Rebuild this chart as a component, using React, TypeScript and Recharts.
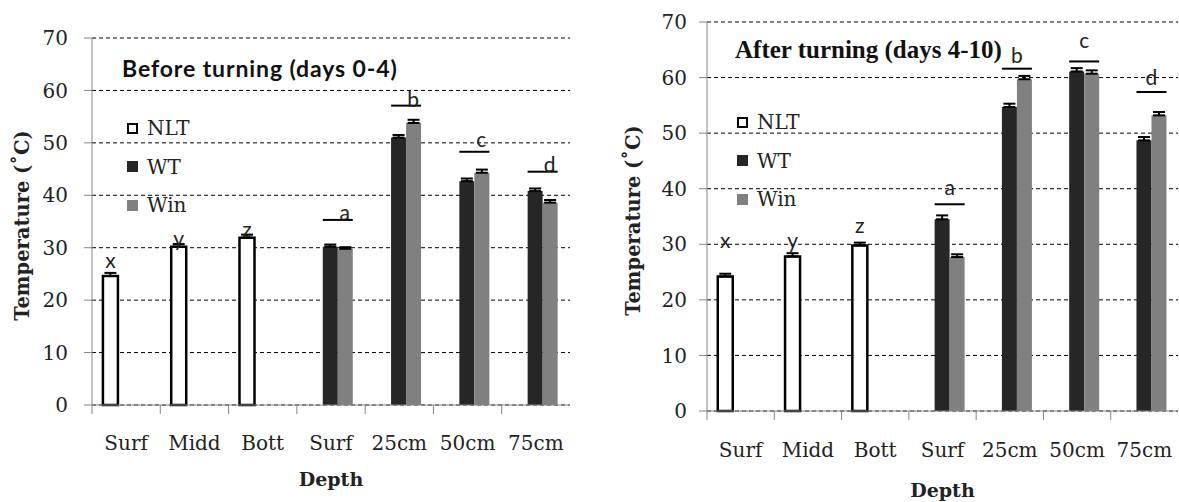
import { BarChart, Bar, XAxis, YAxis, CartesianGrid, ErrorBar, LabelList, Legend } from 'recharts';

const depths = ['Surf', 'Midd', 'Bott', 'Surf', '25cm', '50cm', '75cm'];
const seriesNames = ['NLT', 'WT', 'Win'];
const yTicks = [0, 10, 20, 30, 40, 50, 60, 70];

// Before turning (days 0-4)
const beforeNlt = [24.6, 30.2, 31.9, null, null, null, null];
const beforeNltErr = [0.6, 0.5, 0.6, null, null, null, null];
const beforeWt = [null, null, null, 30.2, 51.0, 42.7, 40.8];
const beforeWtErr = [null, null, null, 0.4, 0.5, 0.5, 0.5];
const beforeWin = [null, null, null, 29.8, 53.8, 44.3, 38.6];
const beforeWinErr = [null, null, null, 0.3, 0.6, 0.6, 0.5];
const beforeNltLetters = ['x', 'y', 'z', null, null, null, null];
const beforeNltLetterAt = [26.1, 30.3, 32.1, null, null, null, null];
const beforePairLetters = [null, null, null, 'a', 'b', 'c', 'd'];
const beforePairLine = [null, null, null, 35.3, 57.1, 48.3, 44.5];
const beforePairLetterAt = [null, null, null, 35.3, 56.9, 49.2, 44.5];

// After turning (days 4-10)
const afterNlt = [24.2, 27.8, 29.8, null, null, null, null];
const afterNltErr = [0.5, 0.6, 0.5, null, null, null, null];
const afterWt = [null, null, null, 34.5, 54.7, 61.1, 48.7];
const afterWtErr = [null, null, null, 0.7, 0.6, 0.6, 0.6];
const afterWin = [null, null, null, 27.7, 59.7, 60.7, 53.2];
const afterWinErr = [null, null, null, 0.5, 0.6, 0.6, 0.6];
const afterNltLetters = ['x', 'y', 'z', null, null, null, null];
const afterNltLetterAt = [29.4, 29.4, 32.0, null, null, null, null];
const afterPairLetters = [null, null, null, 'a', 'b', 'c', 'd'];
const afterPairLine = [null, null, null, 37.2, 61.6, 62.9, 57.4];
const afterPairLetterAt = [null, null, null, 38.8, 62.6, 65.3, 58.6];

const SERIF = "'DejaVu Serif', serif";
const SANS = "Lato, 'Open Sans', sans-serif";
const AXIS = '#868686';
const INK = '#222';
const WT_FILL = '#262626';
const WIN_FILL = '#808080';

const err = (e) => (e == null ? null : [0, e]);

function buildRows(nlt, nltErr, wt, wtErr, win, winErr) {
  return depths.map((depth, i) => ({
    depth,
    nlt: nlt[i],
    nltErr: err(nltErr[i]),
    wt: wt[i],
    wtErr: err(wtErr[i]),
    win: win[i],
    winErr: err(winErr[i]),
  }));
}

const beforeRows = buildRows(beforeNlt, beforeNltErr, beforeWt, beforeWtErr, beforeWin, beforeWinErr);
const afterRows = buildRows(afterNlt, afterNltErr, afterWt, afterWtErr, afterWin, afterWinErr);

// pull bar box out of label props (v3 passes a viewBox)
function barBox(props) {
  const vb = props.viewBox || props;
  const h = Math.abs(vb.height);
  const top = vb.height < 0 ? vb.y + vb.height : vb.y;
  return { x: vb.x, y: top, width: vb.width, height: h };
}

// label index skips empty bars, so find the category from the value
const categoryOf = (series, value) => series.findIndex((v) => v === Number(value));

// letters over the single NLT bars
const nltMarks = (series, letters, at) => (props) => {
  const { value } = props;
  if (value == null) return null;
  const i = categoryOf(series, value);
  if (i < 0 || !letters[i]) return null;
  const b = barBox(props);
  const perUnit = b.height / value;
  const base = b.y + b.height;
  return (
    <text x={b.x + b.width / 2} y={base - at[i] * perUnit} textAnchor="middle"
      fontFamily={SANS} fontSize={21} fill={INK}>
      {letters[i]}
    </text>
  );
};

// bracket line over the WT/Win pair with its letter
const pairMarks = (series, letters, line, at, dx) => (props) => {
  const { value } = props;
  if (value == null) return null;
  const i = categoryOf(series, value);
  if (i < 0 || !letters[i]) return null;
  const b = barBox(props);
  const perUnit = b.height / value;
  const base = b.y + b.height;
  const ly = base - line[i] * perUnit;
  const x1 = b.x;
  const x2 = b.x + 2 * b.width;
  return (
    <g>
      <line x1={x1} x2={x2} y1={ly} y2={ly} stroke="#000" strokeWidth={2} />
      <text x={(x1 + x2) / 2 + dx} y={base - at[i] * perUnit} textAnchor="middle"
        fontFamily={SANS} fontSize={21} fill={INK}>
        {letters[i]}
      </text>
    </g>
  );
};

const DepthTick = ({ x, y, payload, labelDy }) => {
  const half = payload && payload.offset ? payload.offset : 34;
  return (
    <g>
      <line x1={x - half} x2={x - half} y1={y} y2={y + 9} stroke={AXIS} />
      <text x={x} y={y + labelDy} textAnchor="middle" fontFamily={SERIF} fontSize={20} fill={INK}>
        {payload.value}
      </text>
    </g>
  );
};

const LegendBox = ({ payload }) => {
  const items = (payload && payload.length ? payload.map((p) => p.value) : seriesNames);
  const swatch = {
    NLT: { background: '#fff', border: '2px solid #000' },
    WT: { background: WT_FILL, border: 'none' },
    Win: { background: WIN_FILL, border: 'none' },
  };
  return (
    <div style={{ fontFamily: SERIF, fontSize: 20, color: INK }}>
      {items.map((name) => (
        <div key={name} style={{ display: 'flex', alignItems: 'center', height: 38.5 }}>
          <span style={{ display: 'inline-block', width: 11, height: 11, boxSizing: 'border-box', marginRight: 9, ...swatch[name] }} />
          <span>{name}</span>
        </div>
      ))}
    </div>
  );
};

function DepthPanel({ rows, nlt, wt, width, margin, tickMargin, yTitleX, depthDy, labelDy, legendPos, nltLetters, nltAt, pairLetters, pairLine, pairAt, letterDx }) {
  return (
    <BarChart width={width} height={502} data={rows} margin={margin} barCategoryGap="16%" barGap={0}>
      <CartesianGrid vertical={false} stroke="#000" strokeDasharray="4 3" />
      <XAxis
        dataKey="depth"
        interval={0}
        height={60}
        tickSize={0}
        tickMargin={0}
        tickLine={false}
        axisLine={{ stroke: AXIS }}
        tick={(p) => <DepthTick {...p} labelDy={labelDy} />}
        label={{
          value: 'Depth',
          content: ({ viewBox }) => (
            <text x={viewBox.x + viewBox.width / 2} y={viewBox.y + depthDy} textAnchor="middle"
              fontFamily={SERIF} fontWeight="bold" fontSize={19} fill={INK}>Depth</text>
          ),
        }}
      />
      <YAxis
        width={60}
        domain={[0, 70]}
        ticks={yTicks}
        tickSize={8}
        tickMargin={tickMargin}
        axisLine={{ stroke: AXIS }}
        tickLine={{ stroke: AXIS }}
        tick={{ fontFamily: SERIF, fontSize: 20, fill: INK }}
        label={{
          value: 'Temperature (˚C)',
          content: ({ viewBox }) => {
            const cy = viewBox.y + viewBox.height / 2 + 4;
            return (
              <text x={yTitleX} y={cy} transform={`rotate(-90 ${yTitleX} ${cy})`} textAnchor="middle"
                dominantBaseline="central" fontFamily={SERIF} fontWeight="bold" fontSize={19.5} fill={INK}>
                Temperature (˚C)
              </text>
            );
          },
        }}
      />
      <Legend
        layout="vertical"
        align="center"
        verticalAlign="middle"
        content={LegendBox}
        wrapperStyle={{ position: 'absolute', left: legendPos.left, top: legendPos.top, width: 'auto', height: 'auto' }}
      />
      <Bar dataKey="nlt" name="NLT" fill="#fff" stroke="#000" strokeWidth={2.5} isAnimationActive={false}>
        <ErrorBar dataKey="nltErr" width={6} stroke="#000" strokeWidth={2} isAnimationActive={false} />
        <LabelList dataKey="nlt" content={nltMarks(nlt, nltLetters, nltAt)} />
      </Bar>
      <Bar dataKey="wt" name="WT" fill={WT_FILL} isAnimationActive={false}>
        <ErrorBar dataKey="wtErr" width={6} stroke="#000" strokeWidth={2} isAnimationActive={false} />
        <LabelList dataKey="wt" content={pairMarks(wt, pairLetters, pairLine, pairAt, letterDx)} />
      </Bar>
      <Bar dataKey="win" name="Win" fill={WIN_FILL} isAnimationActive={false}>
        <ErrorBar dataKey="winErr" width={6} stroke="#000" strokeWidth={2} isAnimationActive={false} />
      </Bar>
    </BarChart>
  );
}

export default function App() {
  return (
    <div style={{ position: 'absolute', left: 0, top: 0, width: 1179, height: 502, background: '#fff', overflow: 'hidden' }}>
      <div style={{ position: 'absolute', left: 0, top: 0 }}>
        <DepthPanel
          rows={beforeRows}
          nlt={beforeNlt}
          wt={beforeWt}
          width={590}
          margin={{ top: 38, right: 20, bottom: 37, left: 32 }}
          tickMargin={16}
          yTitleX={22}
          depthDy={81}
          labelDy={45}
          legendPos={{ left: 127, top: 109 }}
          nltLetters={beforeNltLetters}
          nltAt={beforeNltLetterAt}
          pairLetters={beforePairLetters}
          pairLine={beforePairLine}
          pairAt={beforePairLetterAt}
          letterDx={7}
        />
      </div>
      <div style={{ position: 'absolute', left: 590, top: 0 }}>
        <DepthPanel
          rows={afterRows}
          nlt={afterNlt}
          wt={afterWt}
          width={589}
          margin={{ top: 22, right: 1, bottom: 31, left: 57 }}
          tickMargin={12}
          yTitleX={43}
          depthDy={86}
          labelDy={46}
          legendPos={{ left: 147, top: 103 }}
          nltLetters={afterNltLetters}
          nltAt={afterNltLetterAt}
          pairLetters={afterPairLetters}
          pairLine={afterPairLine}
          pairAt={afterPairLetterAt}
          letterDx={0}
        />
      </div>
      <svg width={1179} height={502} style={{ position: 'absolute', left: 0, top: 0, pointerEvents: 'none' }}>
        <text x={122} y={77} fontFamily={SANS} fontWeight="bold" fontSize={23} letterSpacing={0.9} fill="#111">Before turning (days 0-4)</text>
        <text x={735} y={58} fontFamily="'Liberation Serif', serif" fontWeight="bold" fontSize={25} fill="#111">After turning (days 4-10)</text>
      </svg>
    </div>
  );
}
